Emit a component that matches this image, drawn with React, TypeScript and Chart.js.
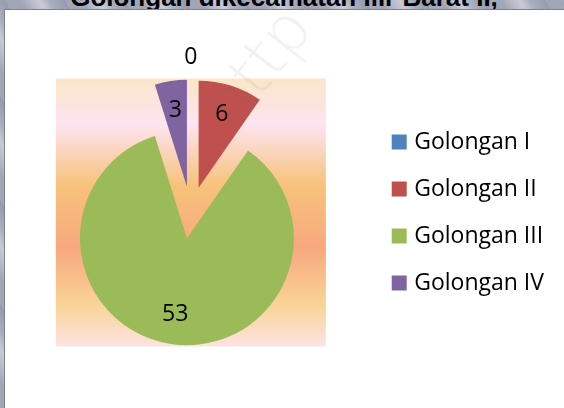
import React, { useEffect, useRef } from "react";
import { Chart, registerables } from "chart.js";

Chart.register(...registerables);

// ---- data ----
const categories = ["Golongan I", "Golongan II", "Golongan III", "Golongan IV"];
const values = [0, 6, 53, 3];
const colors = ["#4F81BD", "#C0504D", "#9BBB59", "#8064A2"];
const titleText = "Golongan dikecamatan Ilir Barat II,";
const watermarkText = "http";

// ---- style ----
const EXPLODE = 26;
const FONT = "'Open Sans', 'Noto Sans', sans-serif";

const piePlugin = {
  id: "explodedPie",
  beforeDatasetsDraw(chart: any) {
    const { chartArea, ctx } = chart;
    const cx = (chartArea.left + chartArea.right) / 2;
    const cy = (chartArea.top + chartArea.bottom) / 2;
    const meta = chart.getDatasetMeta(0);
    const r = meta.data.length ? meta.data[0].outerRadius : 107;
    const hw = r + EXPLODE + 2;
    const hh = r + EXPLODE + 1;
    const g = ctx.createLinearGradient(0, cy - hh, 0, cy + hh);
    g.addColorStop(0, "#FAE6C8");
    g.addColorStop(0.17, "#FDE4F0");
    g.addColorStop(0.4, "#F8C27A");
    g.addColorStop(0.63, "#F8A87E");
    g.addColorStop(0.85, "#FAD498");
    g.addColorStop(1, "#FCE3E3");
    ctx.save();
    ctx.fillStyle = g;
    ctx.fillRect(cx - hw, cy - hh, hw * 2, hh * 2);
    ctx.restore();
    meta.data.forEach((arc: any) => {
      const mid = (arc.startAngle + arc.endAngle) / 2;
      arc.x = cx + Math.cos(mid) * EXPLODE;
      arc.y = cy + Math.sin(mid) * EXPLODE;
    });
  },
  afterDatasetsDraw(chart: any) {
    const { ctx } = chart;
    const meta = chart.getDatasetMeta(0);
    ctx.save();
    ctx.fillStyle = "#000";
    ctx.font = `23px ${FONT}`;
    ctx.textAlign = "center";
    ctx.textBaseline = "middle";
    meta.data.forEach((arc: any, i: number) => {
      const v = values[i];
      const mid = (arc.startAngle + arc.endAngle) / 2;
      const d = v === 0 ? arc.outerRadius + 22 : arc.outerRadius * 0.72;
      ctx.fillText(String(v), arc.x + Math.cos(mid) * d, arc.y + Math.sin(mid) * d);
    });
    ctx.restore();
  },
  afterDraw(chart: any) {
    const { ctx } = chart;
    ctx.save();
    ctx.translate(229, 122);
    ctx.rotate((-52 * Math.PI) / 180);
    ctx.font = "200 64px 'DejaVu Sans', sans-serif";
    ctx.fillStyle = "rgba(110,110,110,0.09)";
    ctx.textBaseline = "alphabetic";
    ctx.fillText(watermarkText, 0, 0);
    ctx.restore();
  },
};

export default function App() {
  const ref = useRef<HTMLCanvasElement>(null);

  useEffect(() => {
    if (!ref.current) return;
    const chart = new Chart(ref.current, {
      type: "pie",
      data: {
        labels: categories,
        datasets: [
          {
            data: values,
            backgroundColor: colors,
            borderWidth: 0,
            radius: 107,
          } as any,
        ],
      },
      options: {
        responsive: false,
        animation: false,
        layout: { padding: { left: 5, right: 10, top: 7, bottom: 0 } },
        plugins: {
          legend: {
            position: "right",
            align: "center",
            labels: {
              boxWidth: 7,
              boxHeight: 7,
              padding: 24,
              color: "#000",
              font: { family: FONT, size: 23 },
              generateLabels: () =>
                categories.map((c, i) => ({
                  text: c,
                  fillStyle: colors[i],
                  strokeStyle: colors[i],
                  lineWidth: 8,
                  hidden: false,
                  index: i,
                  fontColor: "#000",
                })),
            },
          },
          tooltip: { enabled: false },
        },
      },
      plugins: [piePlugin],
    } as any);
    return () => chart.destroy();
  }, []);

  return (
    <div
      style={{
        position: "fixed",
        left: 0,
        top: 0,
        width: 564,
        height: 408,
        overflow: "hidden",
        background:
          "repeating-linear-gradient(60deg, #a2a7b8 0px, #a2a7b8 14px, #b8bcc9 22px, #c8cbd5 30px, #aab0bf 38px, #959bae 52px)",
      }}
    >
      <div
        style={{
          position: "absolute",
          left: 2,
          top: -16,
          width: 564,
          textAlign: "center",
          font: "bold 26px/26px 'Liberation Sans', Arial, sans-serif",
          color: "#000",
          whiteSpace: "nowrap",
        }}
      >
        {titleText}
      </div>
      <div
        style={{
          position: "absolute",
          left: 4,
          top: 9,
          width: 560,
          height: 399,
          boxSizing: "border-box",
          background: "#fff",
          borderLeft: "1px solid #7d8290",
          borderTop: "1px solid #7d8290",
        }}
      >
        <canvas ref={ref} width={559} height={398} style={{ display: "block" }} />
      </div>
    </div>
  );
}
